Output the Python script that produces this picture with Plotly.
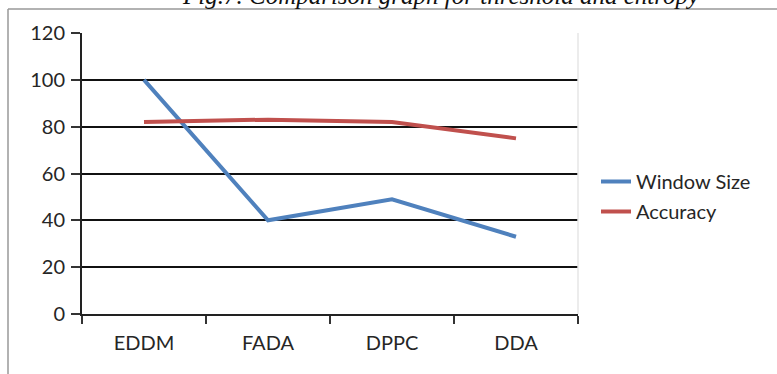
import plotly.graph_objects as go

categories = ["EDDM", "FADA", "DPPC", "DDA"]
window_size = [100, 40, 49, 33]
accuracy = [82, 83, 82, 75]
y_ticks = [0, 20, 40, 60, 80, 100, 120]

W, H = 777, 374
L, R, T, B = 82, 199, 33, 60
pw = W - L - R
ph = H - T - B

def px_x(p):
    return (p - L) / pw

def px_y(p):
    return (H - B - p) / ph

FONT = "Lato, Liberation Sans, sans-serif"

fig = go.Figure()
fig.add_trace(go.Scatter(x=categories, y=window_size, name="Window Size", mode="lines",
                         legendgroup="a",
                         line=dict(color="#4F81BD", width=4)))
fig.add_trace(go.Scatter(x=categories, y=accuracy, name="Accuracy", mode="lines",
                         legendgroup="b",
                         line=dict(color="#C0504D", width=4)))

fig.update_layout(
    width=W, height=H,
    margin=dict(l=L, r=R, t=T, b=B),
    paper_bgcolor="white", plot_bgcolor="white",
    font=dict(family=FONT, size=20, color="#262626"),
    showlegend=True,
    hovermode=False,
    legend=dict(x=px_x(596), y=px_y(162), xanchor="left", yanchor="top",
                font=dict(family=FONT, size=20, color="#262626"), tracegroupgap=1,
                itemwidth=30, bgcolor="rgba(0,0,0,0)"),
    xaxis=dict(type="category", range=[-0.5, 3.5], showgrid=False,
               showline=True, linecolor="#222222", linewidth=2,
               ticks="outside", ticklen=8, tickwidth=2, tickcolor="#333333",
               tickson="boundaries", zeroline=False, ticklabelstandoff=10),
    yaxis=dict(range=[0, 120], tickvals=y_ticks, showgrid=True,
               gridcolor="#111111", gridwidth=2,
               showline=True, linecolor="#222222", linewidth=2,
               ticks="outside", ticklen=9, tickwidth=2, tickcolor="#333333",
               zeroline=False, ticklabelstandoff=2),
    shapes=[
        dict(type="line", xref="paper", yref="paper", x0=px_x(8), x1=px_x(8),
             y0=px_y(9), y1=px_y(H + 5), line=dict(color="#999999", width=1.5)),
        dict(type="line", xref="paper", yref="paper", x0=px_x(8), x1=px_x(W + 5),
             y0=px_y(9), y1=px_y(9), line=dict(color="#999999", width=1.5)),
        dict(type="line", xref="paper", yref="paper", x0=1, x1=1,
             y0=0, y1=1, line=dict(color="#e6e6e6", width=1.5)),
    ],
    annotations=[
        dict(text="<i>Fig.7. Comparison graph for threshold and entropy</i>",
             xref="paper", yref="paper", x=px_x(441), y=px_y(-5),
             xanchor="center", yanchor="middle", showarrow=False,
             font=dict(family="Liberation Serif, serif", size=25, color="#111111")),
    ],
)

fig.write_html("out.html", config={"displayModeBar": False},
               post_script="document.body.style.margin='0';")
